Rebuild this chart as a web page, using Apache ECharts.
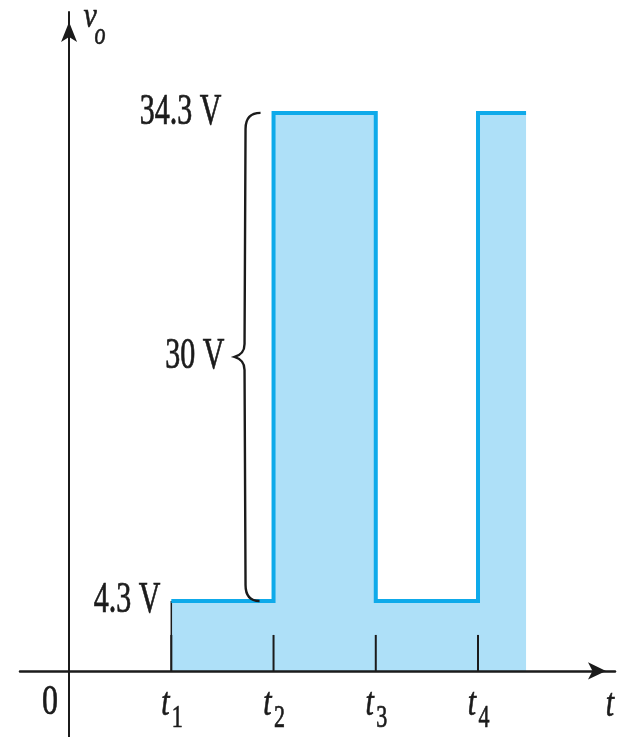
<!DOCTYPE html>
<html>
<head>
<meta charset="utf-8">
<script src="https://cdn.jsdelivr.net/npm/echarts@6/dist/echarts.min.js"></script>
<style>
  html, body { margin: 0; padding: 0; background: #ffffff; }
  #chart { width: 623px; height: 737px; }
</style>
</head>
<body>
<div id="chart"></div>
<script>
// Output voltage v_o of the clamper circuit over time
const tickTimes = [1, 2, 3, 4];
const tickSubscripts = ['1', '2', '3', '4'];
const waveTimes = [1, 2, 2, 3, 3, 4, 4, 4.47];
const waveVolts = [4.3, 4.3, 34.3, 34.3, 4.3, 4.3, 34.3, 34.3];
const lowLevel = 4.3;
const highLevel = 34.3;
const levelLabels = ['4.3 V', '34.3 V'];
const swingLabel = '30 V';
const originLabel = '0';
const timeAxisName = 't';
const voltAxisName = ['v', 'o'];

const SERIF = "'Liberation Serif', 'Times New Roman', serif";
const INK = '#1b1b1b';
const WAVE_BLUE = '#0eaaea';
const FILL_BLUE = '#aee0f8';

const wave = waveTimes.map((t, i) => [t, waveVolts[i]]);

// tall, narrow serif text like the textbook figure
function label(text, x, y, opts) {
  return {
    type: 'text',
    x: x,
    y: y,
    scaleY: opts.stretch || 1.4,
    style: {
      text: text,
      fontFamily: SERIF,
      fontSize: opts.size || 30,
      fontStyle: opts.italic ? 'italic' : 'normal',
      fill: INK,
      stroke: INK,
      lineWidth: 0.5,
      align: opts.align || 'center',
      verticalAlign: 'middle'
    }
  };
}

// curly brace spanning the swing between the two levels, with level labels
function renderBrace(params, api) {
  const lo = api.coord([api.value(0), api.value(1)]);
  const hi = api.coord([api.value(0), api.value(2)]);
  const edge = api.coord([tickTimes[0], lowLevel]);
  const bx = lo[0] - 29;
  const yHi = hi[1];
  const yLo = lo[1];
  const yMid = (yHi + yLo) / 2;
  const tip = bx - 10;
  const d = [
    'M', bx + 16, yHi,
    'C', bx + 6, yHi, bx + 1, yHi + 5, bx + 1, yHi + 16,
    'L', bx, yMid - 13,
    'C', bx, yMid - 5, bx - 4, yMid - 2, tip, yMid,
    'C', bx - 4, yMid + 2, bx, yMid + 5, bx, yMid + 13,
    'L', bx + 1, yLo - 16,
    'C', bx + 1, yLo - 5, bx + 6, yLo, bx + 15, yLo
  ].join(' ');
  return {
    type: 'group',
    children: [
      { type: 'path', shape: { pathData: d }, style: { stroke: INK, fill: null, lineWidth: 2.4 } },
      label(levelLabels[1], bx - 23, yHi, { size: 30, stretch: 1.45, align: 'right' }),
      label(swingLabel, tip - 10, yMid, { size: 30, stretch: 1.45, align: 'right' }),
      label(levelLabels[0], edge[0] - 11, yLo, { size: 30, stretch: 1.45, align: 'right' })
    ]
  };
}

// tick marks and t_k labels on the time axis
function renderTick(params, api) {
  const p = api.coord([api.value(0), 0]);
  const i = params.dataIndex;
  return {
    type: 'group',
    children: [
      { type: 'line', shape: { x1: p[0], y1: p[1], x2: p[0], y2: p[1] - 36 }, style: { stroke: INK, lineWidth: 2 } },
      label('t', p[0] - 6, p[1] + 33, { italic: true, size: 30, stretch: 1.35 }),
      label(tickSubscripts[i], p[0] + 6, p[1] + 48, { size: 22, stretch: 1.45 })
    ]
  };
}

// origin label and axis names
function renderAxisTitles(params, api) {
  const o = api.coord([0, 0]);
  const cs = params.coordSys;
  const right = cs.x + cs.width;
  const top = cs.y;
  return {
    type: 'group',
    children: [
      label(originLabel, o[0] - 19, o[1] + 32, { size: 32, stretch: 1.35 }),
      label(timeAxisName, right - 5, o[1] + 34, { italic: true, size: 30, stretch: 1.35 }),
      label(voltAxisName[0], o[0] + 21, top + 6, { italic: true, size: 30, stretch: 1.2 }),
      label(voltAxisName[1], o[0] + 31, top + 24, { italic: true, size: 22, stretch: 1.4 })
    ]
  };
}

const chart = echarts.init(document.getElementById('chart'), null, { renderer: 'canvas' });

chart.setOption({
  animation: false,
  backgroundColor: '#ffffff',
  grid: { left: 20, right: 8, top: 12, bottom: 0, containLabel: false, outerBoundsMode: 'none' },
  xAxis: {
    type: 'value',
    min: -0.48,
    max: 5.34,
    z: 5,
    axisLine: {
      show: true,
      onZero: true,
      symbol: ['none', 'arrow'],
      symbolSize: [13, 18],
      symbolOffset: [0, -9],
      lineStyle: { color: INK, width: 2.5 }
    },
    axisTick: { show: false },
    axisLabel: { show: false },
    splitLine: { show: false }
  },
  yAxis: {
    type: 'value',
    min: -4.06,
    max: 40.5,
    z: 5,
    axisLine: {
      show: true,
      onZero: true,
      symbol: ['none', 'arrow'],
      symbolSize: [12, 20],
      symbolOffset: [0, -10],
      lineStyle: { color: INK, width: 2 }
    },
    axisTick: { show: false },
    axisLabel: { show: false },
    splitLine: { show: false }
  },
  series: [
    {
      name: 'area',
      type: 'line',
      data: wave,
      symbol: 'none',
      silent: true,
      z: 1,
      lineStyle: { width: 0, opacity: 0 },
      areaStyle: { color: FILL_BLUE, opacity: 1 }
    },
    {
      name: 'edge',
      type: 'line',
      data: [[tickTimes[0], 0], [tickTimes[0], lowLevel]],
      symbol: 'none',
      silent: true,
      z: 2,
      lineStyle: { color: INK, width: 1.5 }
    },
    {
      name: 'ticks',
      type: 'custom',
      data: tickTimes.map(t => [t, 0]),
      encode: { x: 0, y: 1 },
      clip: false,
      z: 3,
      renderItem: renderTick
    },
    {
      name: 'vo',
      type: 'line',
      data: wave,
      symbol: 'none',
      silent: true,
      z: 4,
      lineStyle: { color: WAVE_BLUE, width: 4, join: 'miter', cap: 'butt' }
    },
    {
      name: 'brace',
      type: 'custom',
      data: [[tickTimes[1], lowLevel, highLevel]],
      encode: { x: 0, y: [1, 2] },
      clip: false,
      z: 6,
      renderItem: renderBrace
    },
    {
      name: 'titles',
      type: 'custom',
      data: [[0, 0]],
      encode: { x: 0, y: 1 },
      clip: false,
      z: 6,
      renderItem: renderAxisTitles
    }
  ]
});
</script>
</body>
</html>
